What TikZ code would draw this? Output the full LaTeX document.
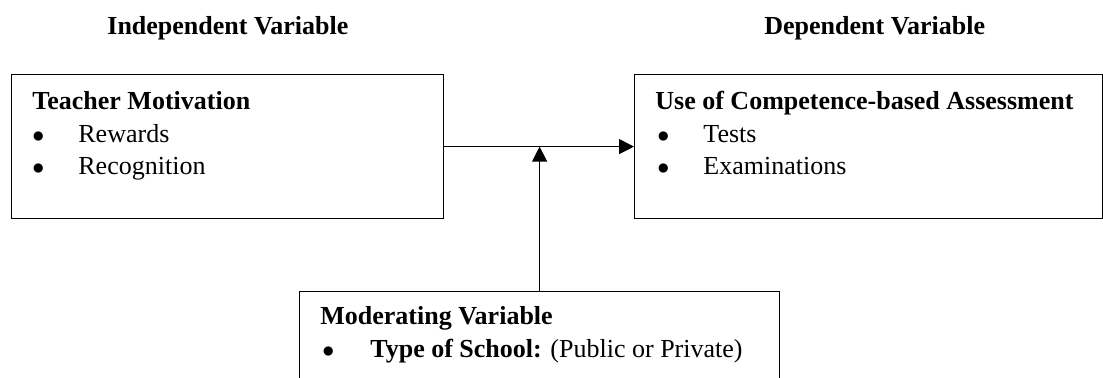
\documentclass[tikz,border=0pt]{standalone}
\usepackage{fontspec}
\setmainfont{Liberation Serif}
\usetikzlibrary{arrows.meta}

\tikzset{
  varbox/.style={draw, line width=0.6pt, anchor=north west, inner sep=0pt, minimum height=72pt},
  title/.style={font=\fontsize{13}{15}\selectfont\bfseries, anchor=base west, inner sep=0pt},
  entry/.style={font=\fontsize{13}{15}\selectfont, anchor=base west, inner sep=0pt},
  dot/.style={font=\fontsize{11.5}{15}\selectfont, anchor=base west, inner sep=0pt},
  arr/.style={line width=0.6pt, -{Triangle[length=7.5pt, width=7.5pt]}}
}

\begin{document}
\begin{tikzpicture}[x=0.5pt, y=-0.5pt]
  \useasboundingbox (0,0) rectangle (1103,378);

  % headings
  \node [title] (indep) at (107, 35) {Independent Variable};
  \node [title] (dep) at (764, 35) {Dependent Variable};

  % boxes
  \node [varbox, minimum width=216pt] (motiv) at (11, 74) {};
  \node [varbox, minimum width=234pt] (cba) at (634, 74) {};
  \node [varbox, minimum width=240pt] (moder) at (299, 291) {};

  % teacher motivation
  \node [title] (motivhead) at (32, 110) {Teacher Motivation};
  \node [dot] (b1) at (32, 143) {$\bullet$};
  \node [entry] (rewards) at (78, 143) {Rewards};
  \node [dot] (b2) at (32, 175) {$\bullet$};
  \node [entry] (recog) at (78, 175) {Recognition};

  % competence-based assessment
  \node [title] (cbahead) at (655, 110) {Use of Competence-based Assessment};
  \node [dot] (b3) at (657, 143) {$\bullet$};
  \node [entry] (tests) at (703, 143) {Tests};
  \node [dot] (b4) at (657, 175) {$\bullet$};
  \node [entry] (exams) at (703, 175) {Examinations};

  % moderating variable
  \node [title] (moderhead) at (320, 325) {Moderating Variable};
  \node [dot] (b5) at (322, 358) {$\bullet$};
  \node [entry] (school) at (370, 358) {\textbf{Type of School:} (Public or Private)};

  % connectors
  \draw [arr] (motiv.east) -- (cba.west);
  \draw [arr] (moder.north) -- (moder.north |- motiv.east);
\end{tikzpicture}
\end{document}
